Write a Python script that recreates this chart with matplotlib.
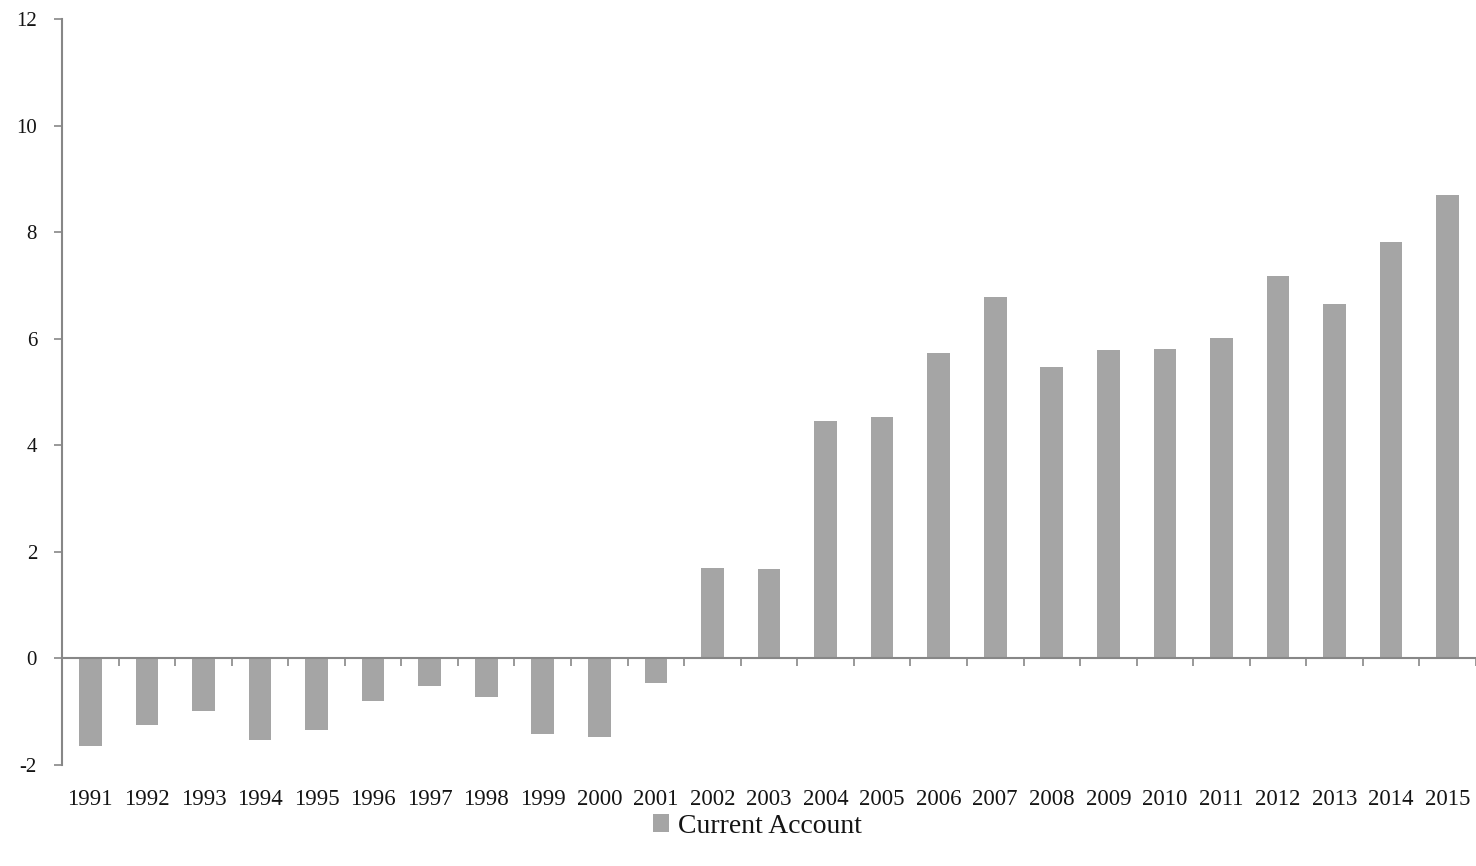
import matplotlib
matplotlib.use("Agg")
import matplotlib.pyplot as plt
from matplotlib.patches import Patch

plt.rcParams["font.family"] = ["Liberation Serif", "DejaVu Serif"]

years = [str(y) for y in range(1991, 2016)]
current_account = [
    -1.65, -1.24, -0.98, -1.54, -1.34, -0.79, -0.52, -0.72, -1.41, -1.47, -0.46,
    1.69, 1.67, 4.45, 4.54, 5.73, 6.79, 5.47, 5.79, 5.80, 6.01, 7.17, 6.66, 7.81, 8.69,
]
y_ticks = [-2, 0, 2, 4, 6, 8, 10, 12]
series_name = "Current Account"

bar_color = "#A5A5A5"
axis_color = "#878787"
text_color = "#141414"

W, H = 1476, 866
fig = plt.figure(figsize=(W / 100, H / 100), dpi=100)
ax = fig.add_axes([62 / W, (H - 765) / H, (W - 62) / W, (765 - 19) / H])

x = list(range(len(years)))
ax.bar(x, current_account, width=0.40, color=bar_color, edgecolor="none", zorder=2)

ax.set_xlim(-0.5, len(years) - 0.5)
ax.set_ylim(-2, 12)
ax.set_yticks(y_ticks)
ax.set_yticklabels([str(v) for v in y_ticks])

# category axis drawn along zero, labels pushed down below the plot
ax.spines["bottom"].set_position(("data", 0))
ax.spines["top"].set_visible(False)
ax.spines["right"].set_visible(False)
for side in ("left", "bottom"):
    ax.spines[side].set_color(axis_color)
    ax.spines[side].set_linewidth(1.5)
    ax.spines[side].set_zorder(3)

ax.set_xticks(x)
ax.set_xticklabels(years)
ax.set_xticks([i - 0.5 for i in range(len(years) + 1)], minor=True)
ax.tick_params(axis="x", which="major", length=0, pad=94,
               labelsize=16.5, labelcolor=text_color)
ax.tick_params(axis="x", which="minor", length=6, width=1.2,
               color=axis_color, direction="out")
ax.tick_params(axis="y", which="major", length=6, width=1.2,
               color=axis_color, direction="out", pad=12,
               labelsize=15, labelcolor=text_color)

handle = Patch(facecolor=bar_color, edgecolor="none", label=series_name)
fig.legend(handles=[handle], loc="center", bbox_to_anchor=(0.513, 0.046),
           frameon=False, fontsize=20, handlelength=0.6, handleheight=0.6,
           handletextpad=0.3, labelcolor=text_color)

fig.savefig("out.png", dpi=100, facecolor="white")
